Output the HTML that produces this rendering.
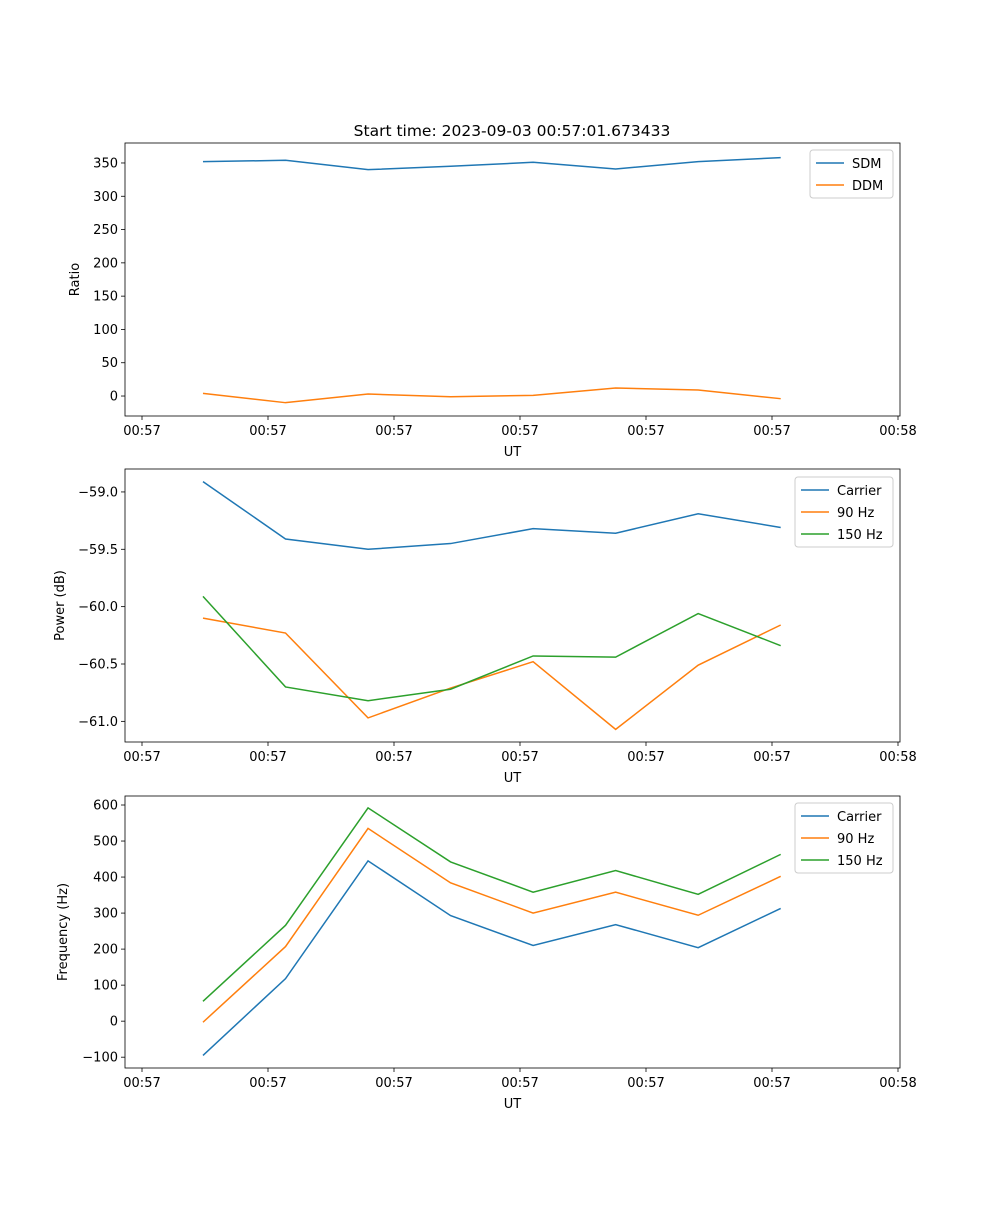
<!DOCTYPE html>
<html><head><meta charset="utf-8"><style>
body{margin:0;background:#fff}
svg text{font-family:"DejaVu Sans","Liberation Sans",sans-serif;font-size:13px;fill:#000}
</style></head><body>
<svg id="fig" width="1000" height="1200" xmlns="http://www.w3.org/2000/svg">
<text x="512" y="136" text-anchor="middle" style="font-size:15.5px">Start time: 2023-09-03 00:57:01.673433</text>
</svg>
<script>
const xTickLabels = ["00:57","00:57","00:57","00:57","00:57","00:57","00:58"];
const times = [0.484,1.139,1.794,2.449,3.104,3.759,4.414,5.069];
const sdm = [352,354,340,345,351,341,352,358];
const ddm = [4,-10,3,-1,1,12,9,-4];
const pCarrier = [-58.91,-59.41,-59.50,-59.45,-59.32,-59.36,-59.19,-59.31];
const p90 = [-60.10,-60.23,-60.97,-60.71,-60.48,-61.07,-60.51,-60.16];
const p150 = [-59.91,-60.70,-60.82,-60.72,-60.43,-60.44,-60.06,-60.34];
const fCarrier = [-95,118,445,293,210,268,204,313];
const f90 = [-3,207,535,384,300,358,294,402];
const f150 = [55,266,592,442,358,418,352,463];
const ticks1 = [0,50,100,150,200,250,300,350];
const ticks2 = [-61.0,-60.5,-60.0,-59.5,-59.0];
const ticks3 = [-100,0,100,200,300,400,500,600];

const svg = document.getElementById('fig');
const NS = 'http://www.w3.org/2000/svg';
function mk(tag, attrs, parent){const e=document.createElementNS(NS,tag);for(const k in attrs)e.setAttribute(k,attrs[k]);(parent||svg).appendChild(e);return e;}
const X0=125,X1=900;
const xs = v => 142 + v*126;

function panel(id, top, bottom, ymin, ymax, yticks, fmt, ylabel, series, legend){
  const g = mk('g',{});
  
  
  const ys = v => bottom - (v-ymin)/(ymax-ymin)*(bottom-top);
  yticks.forEach(t=>{
    const y=ys(t);
    mk('line',{x1:X0-4,x2:X0,y1:y,y2:y,stroke:'#000','stroke-width':0.8},g);
    const tx=mk('text',{x:X0-7,y:y+4.5,'text-anchor':'end'},g);
    tx.textContent=fmt(t);
    
    
  });
  xTickLabels.forEach((l,i)=>{
    const x=xs(i);
    mk('line',{x1:x,x2:x,y1:bottom,y2:bottom+4,stroke:'#000','stroke-width':0.8},g);
    const tx=mk('text',{x:x,y:bottom+19,'text-anchor':'middle'},g);
    tx.textContent=l;
    
    
  });
  const xl=mk('text',{x:(X0+X1)/2,y:bottom+40,'text-anchor':'middle'},g);
  xl.textContent='UT';
  
  
  const cy=(top+bottom)/2;
  const yl=mk('text',{x:0,y:0,'text-anchor':'middle',transform:`translate(${ylabel[1]},${cy}) rotate(-90)`},g);
  yl.textContent=ylabel[0];
  
  
  series.forEach(s=>{
    const pts=times.map((t,i)=>xs(t)+','+ys(s.data[i])).join(' ');
    const pl=mk('polyline',{points:pts,fill:'none',stroke:s.color,'stroke-width':1.5},g);
    
    
  });
  mk('rect',{x:X0,y:top,width:X1-X0,height:bottom-top,fill:'none',stroke:'#000','stroke-width':0.8},g);
  const lg=mk('g',{},g);
  
  
  mk('rect',{x:legend[0],y:legend[1],width:X1-7-legend[0],height:series.length*22+4,rx:3,fill:'#fff',stroke:'#ccc'},lg);
  series.forEach((s,i)=>{
    const y=legend[1]+13+i*22;
    mk('line',{x1:legend[0]+6,x2:legend[0]+34,y1:y,y2:y,stroke:s.color,'stroke-width':1.5},lg);
    const t=mk('text',{x:legend[0]+42,y:y+5},lg);
    t.textContent=s.name;
    
    
  });
}
const B='#1f77b4',O='#ff7f0e',G='#2ca02c';
panel('ratio',143,416,-30,380,ticks1,v=>String(v),['Ratio',79],
  [{name:'SDM',data:sdm,color:B},{name:'DDM',data:ddm,color:O}],[810,150]);
panel('power',469,742,-61.18,-58.80,ticks2,v=>'\u2212'+Math.abs(v).toFixed(1),['Power (dB)',64],
  [{name:'Carrier',data:pCarrier,color:B},{name:'90 Hz',data:p90,color:O},{name:'150 Hz',data:p150,color:G}],[795,477]);
panel('frequency',796,1068,-130,625,ticks3,v=>v<0?'\u2212'+Math.abs(v):String(v),['Frequency (Hz)',67],
  [{name:'Carrier',data:fCarrier,color:B},{name:'90 Hz',data:f90,color:O},{name:'150 Hz',data:f150,color:G}],[795,803]);
</script>
</body></html>
